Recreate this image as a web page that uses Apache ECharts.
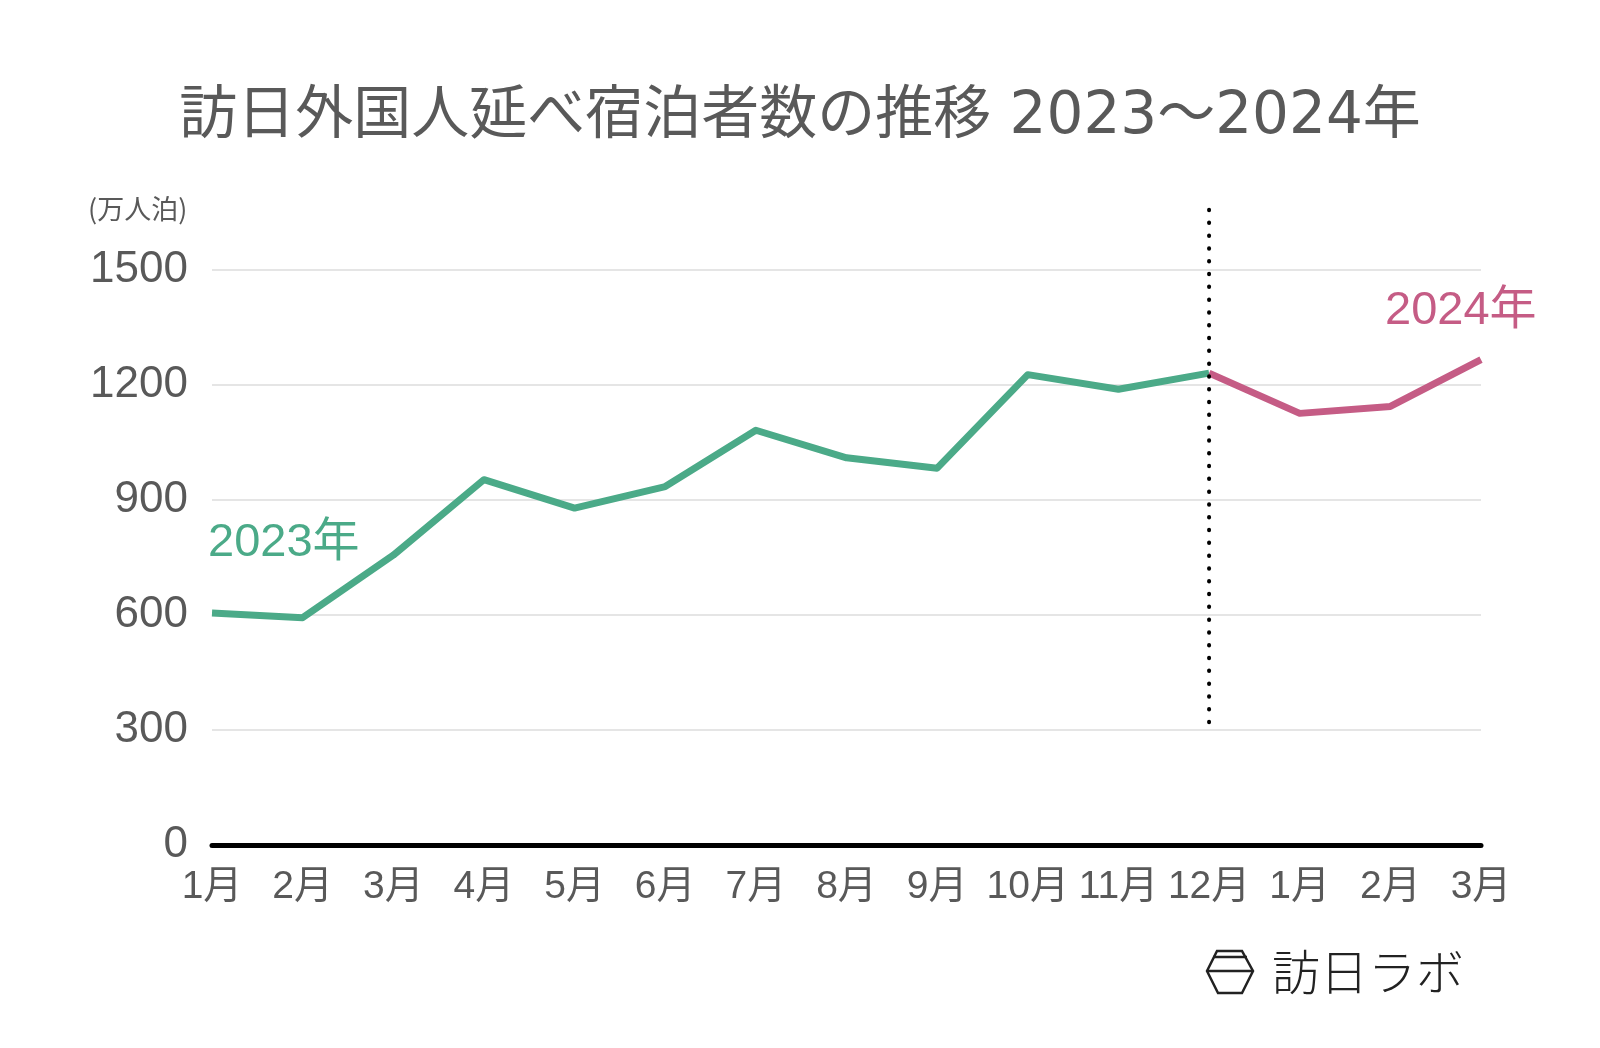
<!DOCTYPE html>
<html>
<head>
<meta charset="utf-8">
<script src="https://cdn.jsdelivr.net/npm/echarts@6/dist/echarts.min.js"></script>
<style>html,body{margin:0;padding:0;background:#fff;}#c{width:1600px;height:1048px;}</style>
</head>
<body>
<div id="c"></div>
<script>
const months = ['1月','2月','3月','4月','5月','6月','7月','8月','9月','10月','11月','12月','1月','2月','3月'];
const values2023 = [605, 593, 756, 953, 879, 935, 1082, 1010, 983, 1227, 1189, 1231];
const values2024 = [1126, 1144, 1266];
const yTicks = { min: 0, max: 1500, interval: 300 };
const dividerIndex = 11;
const dividerRange = [1657, 318];

const CJK = '"Noto Sans CJK JP", "Noto Sans", sans-serif';
const FONT = '"Liberation Sans", ' + CJK;
const TITLE_FONT = '"DejaVu Sans", ' + CJK;
const GRAY = '#595959';
const GREEN = '#4BAA88';
const PINK = '#C55C85';

const s2023 = values2023.map(v => v);
const s2024 = months.map(() => null);
s2024[dividerIndex] = values2023[dividerIndex];
values2024.forEach((v, i) => { s2024[dividerIndex + 1 + i] = v; });

const chart = echarts.init(document.getElementById('c'), null, { renderer: 'canvas' });
chart.setOption({
  backgroundColor: '#fff',
  animation: false,
  grid: { left: 212, right: 119, top: 270, bottom: 203, containLabel: false },
  xAxis: {
    type: 'category',
    data: months,
    boundaryGap: false,
    axisLine: { show: true, lineStyle: { color: '#000', width: 5 } },
    axisTick: { show: false },
    axisLabel: { color: GRAY, fontSize: 39, fontFamily: FONT, margin: 23, interval: 0 },
    splitLine: { show: false }
  },
  yAxis: {
    type: 'value',
    min: yTicks.min, max: yTicks.max, interval: yTicks.interval,
    axisLine: { show: false },
    axisTick: { show: false },
    axisLabel: { color: GRAY, fontSize: 44, fontFamily: FONT, margin: 24, padding: [6, 0, 0, 0], formatter: v => String(v) },
    splitLine: { show: true, lineStyle: { color: '#dddddd', width: 1.5 } }
  },
  series: [
    {
      name: '2023年', type: 'line', data: s2023, symbol: 'none', z: 3,
      lineStyle: { color: GREEN, width: 7, join: 'round' }
    },
    {
      name: '2024年', type: 'line', data: s2024, symbol: 'none', z: 3,
      lineStyle: { color: PINK, width: 7, join: 'round' }
    },
    {
      name: 'divider', type: 'line', clip: false, symbol: 'none', z: 5,
      data: [[dividerIndex, dividerRange[0]], [dividerIndex, dividerRange[1]]],
      lineStyle: { color: '#000', width: 4, type: [0.5, 12.3], cap: 'round' }
    }
  ],
  graphic: [
    { type: 'text', left: 'center', top: 89, style: { text: '訪日外国人延べ宿泊者数の推移 2023〜2024年', fill: GRAY, font: '58px ' + TITLE_FONT } },
    { type: 'text', x: 88, y: 209, style: { text: '(万人泊)', fill: GRAY, font: '27px ' + CJK, verticalAlign: 'middle' } },
    { type: 'text', x: 208, y: 543, style: { text: '2023年', fill: GREEN, font: '47px ' + FONT, verticalAlign: 'middle' } },
    { type: 'text', x: 1385, y: 311, style: { text: '2024年', fill: PINK, font: '47px ' + FONT, verticalAlign: 'middle' } },
    { type: 'polygon', shape: { points: [[1217,951],[1242,951],[1253,971],[1242,993],[1218,993],[1207,971]] }, style: { fill: 'none', stroke: '#222', lineWidth: 2.5 } },
    { type: 'line', shape: { x1: 1207, y1: 971, x2: 1253, y2: 971 }, style: { stroke: '#222', lineWidth: 2.5 } },
    { type: 'line', shape: { x1: 1213, y1: 957, x2: 1247, y2: 957 }, style: { stroke: '#222', lineWidth: 2.5 } },
    { type: 'text', x: 1272, y: 972, style: { text: '訪日ラボ', fill: '#222', font: '300 48px ' + CJK, verticalAlign: 'middle' } }
  ]
});
</script>
</body>
</html>
